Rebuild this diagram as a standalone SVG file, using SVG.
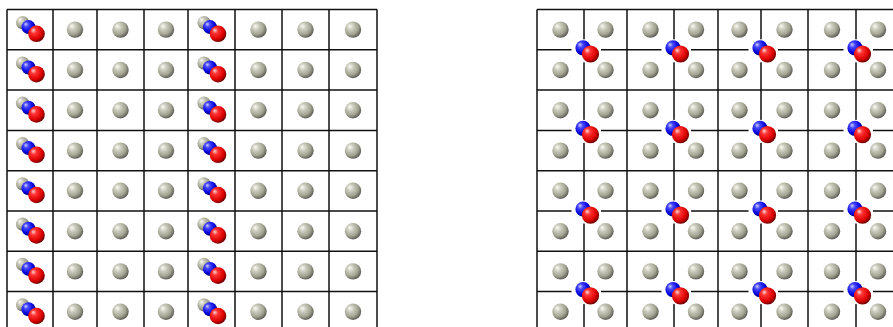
<svg xmlns="http://www.w3.org/2000/svg" width="893" height="327" viewBox="0 0 893 327">
  <defs>
    <radialGradient id="gGrey" cx="0.4" cy="0.38" r="0.62" fx="0.3" fy="0.28">
      <stop offset="0" stop-color="#fbfbf4"/>
      <stop offset="0.3" stop-color="#cfcfc2"/>
      <stop offset="0.72" stop-color="#a3a392"/>
      <stop offset="1" stop-color="#5f5f58"/>
    </radialGradient>
    <radialGradient id="gBlue" cx="0.4" cy="0.38" r="0.62" fx="0.3" fy="0.28">
      <stop offset="0" stop-color="#d0d0ff"/>
      <stop offset="0.28" stop-color="#4848ff"/>
      <stop offset="0.75" stop-color="#0000da"/>
      <stop offset="1" stop-color="#00006a"/>
    </radialGradient>
    <radialGradient id="gRed" cx="0.4" cy="0.38" r="0.62" fx="0.3" fy="0.28">
      <stop offset="0" stop-color="#ffd6d6"/>
      <stop offset="0.28" stop-color="#ff3434"/>
      <stop offset="0.75" stop-color="#dc0000"/>
      <stop offset="1" stop-color="#720000"/>
    </radialGradient>
    <!-- substrate atom -->
    <g id="atom">
      <circle r="8.2" fill="url(#gGrey)"/>
    </g>
    <!-- molecule sitting on a substrate atom -->
    <g id="molTop">
      <circle cx="-7.5" cy="-7" r="6.6" fill="url(#gGrey)"/>
      <circle cx="-1.5" cy="-2.5" r="7" fill="url(#gBlue)"/>
      <circle cx="6.5" cy="4.2" r="8.3" fill="url(#gRed)"/>
    </g>
    <!-- molecule in a hollow site, on a white patch -->
    <g id="molHollow">
      <rect x="-12.5" y="-10.5" width="29.5" height="23" fill="#fff"/>
      <circle cx="-1" cy="-2" r="7.6" fill="url(#gBlue)"/>
      <circle cx="6.5" cy="4.2" r="8.6" fill="url(#gRed)"/>
    </g>
  </defs>
  <style>
    .grid { fill: none; stroke: #111; stroke-width: 1.5; }
  </style>

  <rect width="893" height="327" fill="#fff"/>

  <g id="connectors">
    <path id="left-lines" class="grid" d="M7 9.5V332M53 9.5V332M97 9.5V332M144 9.5V332M188 9.5V332M235 9.5V332M282 9.5V332M329 9.5V332M377 9.5V332
      M7 9.5H377M7 49.8H377M7 90.1H377M7 130.4H377M7 170.7H377M7 211H377M7 251.3H377M7 291.6H377"/>
    <path id="right-lines" class="grid" d="M537 9.5V332M584 9.5V332M627 9.5V332M674 9.5V332M718 9.5V332M761 9.5V332M808 9.5V332M856 9.5V332
      M537 9.5H900M537 49.8H900M537 90.1H900M537 130.4H900M537 170.7H900M537 211H900M537 251.3H900M537 291.6H900"/>
  </g>

  <!-- left panel: molecules on top sites in columns 0 and 4 -->
  <g id="left-panel">
    <g id="L-r0c0"><use href="#molTop" x="30" y="29.6"/></g>
    <g id="L-r0c1"><use href="#atom" x="75" y="29.6"/></g>
    <g id="L-r0c2"><use href="#atom" x="120.5" y="29.6"/></g>
    <g id="L-r0c3"><use href="#atom" x="166" y="29.6"/></g>
    <g id="L-r0c4"><use href="#molTop" x="211.5" y="29.6"/></g>
    <g id="L-r0c5"><use href="#atom" x="258.5" y="29.6"/></g>
    <g id="L-r0c6"><use href="#atom" x="305.5" y="29.6"/></g>
    <g id="L-r0c7"><use href="#atom" x="353" y="29.6"/></g>

    <g id="L-r1c0"><use href="#molTop" x="30" y="70"/></g>
    <g id="L-r1c1"><use href="#atom" x="75" y="70"/></g>
    <g id="L-r1c2"><use href="#atom" x="120.5" y="70"/></g>
    <g id="L-r1c3"><use href="#atom" x="166" y="70"/></g>
    <g id="L-r1c4"><use href="#molTop" x="211.5" y="70"/></g>
    <g id="L-r1c5"><use href="#atom" x="258.5" y="70"/></g>
    <g id="L-r1c6"><use href="#atom" x="305.5" y="70"/></g>
    <g id="L-r1c7"><use href="#atom" x="353" y="70"/></g>

    <g id="L-r2c0"><use href="#molTop" x="30" y="110.2"/></g>
    <g id="L-r2c1"><use href="#atom" x="75" y="110.2"/></g>
    <g id="L-r2c2"><use href="#atom" x="120.5" y="110.2"/></g>
    <g id="L-r2c3"><use href="#atom" x="166" y="110.2"/></g>
    <g id="L-r2c4"><use href="#molTop" x="211.5" y="110.2"/></g>
    <g id="L-r2c5"><use href="#atom" x="258.5" y="110.2"/></g>
    <g id="L-r2c6"><use href="#atom" x="305.5" y="110.2"/></g>
    <g id="L-r2c7"><use href="#atom" x="353" y="110.2"/></g>

    <g id="L-r3c0"><use href="#molTop" x="30" y="150.6"/></g>
    <g id="L-r3c1"><use href="#atom" x="75" y="150.6"/></g>
    <g id="L-r3c2"><use href="#atom" x="120.5" y="150.6"/></g>
    <g id="L-r3c3"><use href="#atom" x="166" y="150.6"/></g>
    <g id="L-r3c4"><use href="#molTop" x="211.5" y="150.6"/></g>
    <g id="L-r3c5"><use href="#atom" x="258.5" y="150.6"/></g>
    <g id="L-r3c6"><use href="#atom" x="305.5" y="150.6"/></g>
    <g id="L-r3c7"><use href="#atom" x="353" y="150.6"/></g>

    <g id="L-r4c0"><use href="#molTop" x="30" y="190.8"/></g>
    <g id="L-r4c1"><use href="#atom" x="75" y="190.8"/></g>
    <g id="L-r4c2"><use href="#atom" x="120.5" y="190.8"/></g>
    <g id="L-r4c3"><use href="#atom" x="166" y="190.8"/></g>
    <g id="L-r4c4"><use href="#molTop" x="211.5" y="190.8"/></g>
    <g id="L-r4c5"><use href="#atom" x="258.5" y="190.8"/></g>
    <g id="L-r4c6"><use href="#atom" x="305.5" y="190.8"/></g>
    <g id="L-r4c7"><use href="#atom" x="353" y="190.8"/></g>

    <g id="L-r5c0"><use href="#molTop" x="30" y="231.2"/></g>
    <g id="L-r5c1"><use href="#atom" x="75" y="231.2"/></g>
    <g id="L-r5c2"><use href="#atom" x="120.5" y="231.2"/></g>
    <g id="L-r5c3"><use href="#atom" x="166" y="231.2"/></g>
    <g id="L-r5c4"><use href="#molTop" x="211.5" y="231.2"/></g>
    <g id="L-r5c5"><use href="#atom" x="258.5" y="231.2"/></g>
    <g id="L-r5c6"><use href="#atom" x="305.5" y="231.2"/></g>
    <g id="L-r5c7"><use href="#atom" x="353" y="231.2"/></g>

    <g id="L-r6c0"><use href="#molTop" x="30" y="271.4"/></g>
    <g id="L-r6c1"><use href="#atom" x="75" y="271.4"/></g>
    <g id="L-r6c2"><use href="#atom" x="120.5" y="271.4"/></g>
    <g id="L-r6c3"><use href="#atom" x="166" y="271.4"/></g>
    <g id="L-r6c4"><use href="#molTop" x="211.5" y="271.4"/></g>
    <g id="L-r6c5"><use href="#atom" x="258.5" y="271.4"/></g>
    <g id="L-r6c6"><use href="#atom" x="305.5" y="271.4"/></g>
    <g id="L-r6c7"><use href="#atom" x="353" y="271.4"/></g>

    <g id="L-r7c0"><use href="#molTop" x="30" y="311.8"/></g>
    <g id="L-r7c1"><use href="#atom" x="75" y="311.8"/></g>
    <g id="L-r7c2"><use href="#atom" x="120.5" y="311.8"/></g>
    <g id="L-r7c3"><use href="#atom" x="166" y="311.8"/></g>
    <g id="L-r7c4"><use href="#molTop" x="211.5" y="311.8"/></g>
    <g id="L-r7c5"><use href="#atom" x="258.5" y="311.8"/></g>
    <g id="L-r7c6"><use href="#atom" x="305.5" y="311.8"/></g>
    <g id="L-r7c7"><use href="#atom" x="353" y="311.8"/></g>
  </g>

  <!-- right panel: substrate atoms in every cell -->
  <g id="right-panel">
    <g id="R-r0c0"><use href="#atom" x="560.5" y="29.6"/></g>
    <g id="R-r0c1"><use href="#atom" x="605.5" y="29.6"/></g>
    <g id="R-r0c2"><use href="#atom" x="650.5" y="29.6"/></g>
    <g id="R-r0c3"><use href="#atom" x="696" y="29.6"/></g>
    <g id="R-r0c4"><use href="#atom" x="739.5" y="29.6"/></g>
    <g id="R-r0c5"><use href="#atom" x="784.5" y="29.6"/></g>
    <g id="R-r0c6"><use href="#atom" x="832" y="29.6"/></g>
    <g id="R-r0c7"><use href="#atom" x="878" y="29.6"/></g>

    <g id="R-r1c0"><use href="#atom" x="560.5" y="70"/></g>
    <g id="R-r1c1"><use href="#atom" x="605.5" y="70"/></g>
    <g id="R-r1c2"><use href="#atom" x="650.5" y="70"/></g>
    <g id="R-r1c3"><use href="#atom" x="696" y="70"/></g>
    <g id="R-r1c4"><use href="#atom" x="739.5" y="70"/></g>
    <g id="R-r1c5"><use href="#atom" x="784.5" y="70"/></g>
    <g id="R-r1c6"><use href="#atom" x="832" y="70"/></g>
    <g id="R-r1c7"><use href="#atom" x="878" y="70"/></g>

    <g id="R-r2c0"><use href="#atom" x="560.5" y="110.2"/></g>
    <g id="R-r2c1"><use href="#atom" x="605.5" y="110.2"/></g>
    <g id="R-r2c2"><use href="#atom" x="650.5" y="110.2"/></g>
    <g id="R-r2c3"><use href="#atom" x="696" y="110.2"/></g>
    <g id="R-r2c4"><use href="#atom" x="739.5" y="110.2"/></g>
    <g id="R-r2c5"><use href="#atom" x="784.5" y="110.2"/></g>
    <g id="R-r2c6"><use href="#atom" x="832" y="110.2"/></g>
    <g id="R-r2c7"><use href="#atom" x="878" y="110.2"/></g>

    <g id="R-r3c0"><use href="#atom" x="560.5" y="150.6"/></g>
    <g id="R-r3c1"><use href="#atom" x="605.5" y="150.6"/></g>
    <g id="R-r3c2"><use href="#atom" x="650.5" y="150.6"/></g>
    <g id="R-r3c3"><use href="#atom" x="696" y="150.6"/></g>
    <g id="R-r3c4"><use href="#atom" x="739.5" y="150.6"/></g>
    <g id="R-r3c5"><use href="#atom" x="784.5" y="150.6"/></g>
    <g id="R-r3c6"><use href="#atom" x="832" y="150.6"/></g>
    <g id="R-r3c7"><use href="#atom" x="878" y="150.6"/></g>

    <g id="R-r4c0"><use href="#atom" x="560.5" y="190.8"/></g>
    <g id="R-r4c1"><use href="#atom" x="605.5" y="190.8"/></g>
    <g id="R-r4c2"><use href="#atom" x="650.5" y="190.8"/></g>
    <g id="R-r4c3"><use href="#atom" x="696" y="190.8"/></g>
    <g id="R-r4c4"><use href="#atom" x="739.5" y="190.8"/></g>
    <g id="R-r4c5"><use href="#atom" x="784.5" y="190.8"/></g>
    <g id="R-r4c6"><use href="#atom" x="832" y="190.8"/></g>
    <g id="R-r4c7"><use href="#atom" x="878" y="190.8"/></g>

    <g id="R-r5c0"><use href="#atom" x="560.5" y="231.2"/></g>
    <g id="R-r5c1"><use href="#atom" x="605.5" y="231.2"/></g>
    <g id="R-r5c2"><use href="#atom" x="650.5" y="231.2"/></g>
    <g id="R-r5c3"><use href="#atom" x="696" y="231.2"/></g>
    <g id="R-r5c4"><use href="#atom" x="739.5" y="231.2"/></g>
    <g id="R-r5c5"><use href="#atom" x="784.5" y="231.2"/></g>
    <g id="R-r5c6"><use href="#atom" x="832" y="231.2"/></g>
    <g id="R-r5c7"><use href="#atom" x="878" y="231.2"/></g>

    <g id="R-r6c0"><use href="#atom" x="560.5" y="271.4"/></g>
    <g id="R-r6c1"><use href="#atom" x="605.5" y="271.4"/></g>
    <g id="R-r6c2"><use href="#atom" x="650.5" y="271.4"/></g>
    <g id="R-r6c3"><use href="#atom" x="696" y="271.4"/></g>
    <g id="R-r6c4"><use href="#atom" x="739.5" y="271.4"/></g>
    <g id="R-r6c5"><use href="#atom" x="784.5" y="271.4"/></g>
    <g id="R-r6c6"><use href="#atom" x="832" y="271.4"/></g>
    <g id="R-r6c7"><use href="#atom" x="878" y="271.4"/></g>

    <g id="R-r7c0"><use href="#atom" x="560.5" y="311.8"/></g>
    <g id="R-r7c1"><use href="#atom" x="605.5" y="311.8"/></g>
    <g id="R-r7c2"><use href="#atom" x="650.5" y="311.8"/></g>
    <g id="R-r7c3"><use href="#atom" x="696" y="311.8"/></g>
    <g id="R-r7c4"><use href="#atom" x="739.5" y="311.8"/></g>
    <g id="R-r7c5"><use href="#atom" x="784.5" y="311.8"/></g>
    <g id="R-r7c6"><use href="#atom" x="832" y="311.8"/></g>
    <g id="R-r7c7"><use href="#atom" x="878" y="311.8"/></g>

    <!-- molecules in hollow sites at alternate line crossings -->
    <g id="H-a1"><use href="#molHollow" x="584" y="49.8"/></g>
    <g id="H-a2"><use href="#molHollow" x="674" y="49.8"/></g>
    <g id="H-a3"><use href="#molHollow" x="761" y="49.8"/></g>
    <g id="H-a4"><use href="#molHollow" x="856" y="49.8"/></g>
    <g id="H-b1"><use href="#molHollow" x="584" y="130.4"/></g>
    <g id="H-b2"><use href="#molHollow" x="674" y="130.4"/></g>
    <g id="H-b3"><use href="#molHollow" x="761" y="130.4"/></g>
    <g id="H-b4"><use href="#molHollow" x="856" y="130.4"/></g>
    <g id="H-c1"><use href="#molHollow" x="584" y="211"/></g>
    <g id="H-c2"><use href="#molHollow" x="674" y="211"/></g>
    <g id="H-c3"><use href="#molHollow" x="761" y="211"/></g>
    <g id="H-c4"><use href="#molHollow" x="856" y="211"/></g>
    <g id="H-d1"><use href="#molHollow" x="584" y="291.6"/></g>
    <g id="H-d2"><use href="#molHollow" x="674" y="291.6"/></g>
    <g id="H-d3"><use href="#molHollow" x="761" y="291.6"/></g>
    <g id="H-d4"><use href="#molHollow" x="856" y="291.6"/></g>
  </g>
</svg>
